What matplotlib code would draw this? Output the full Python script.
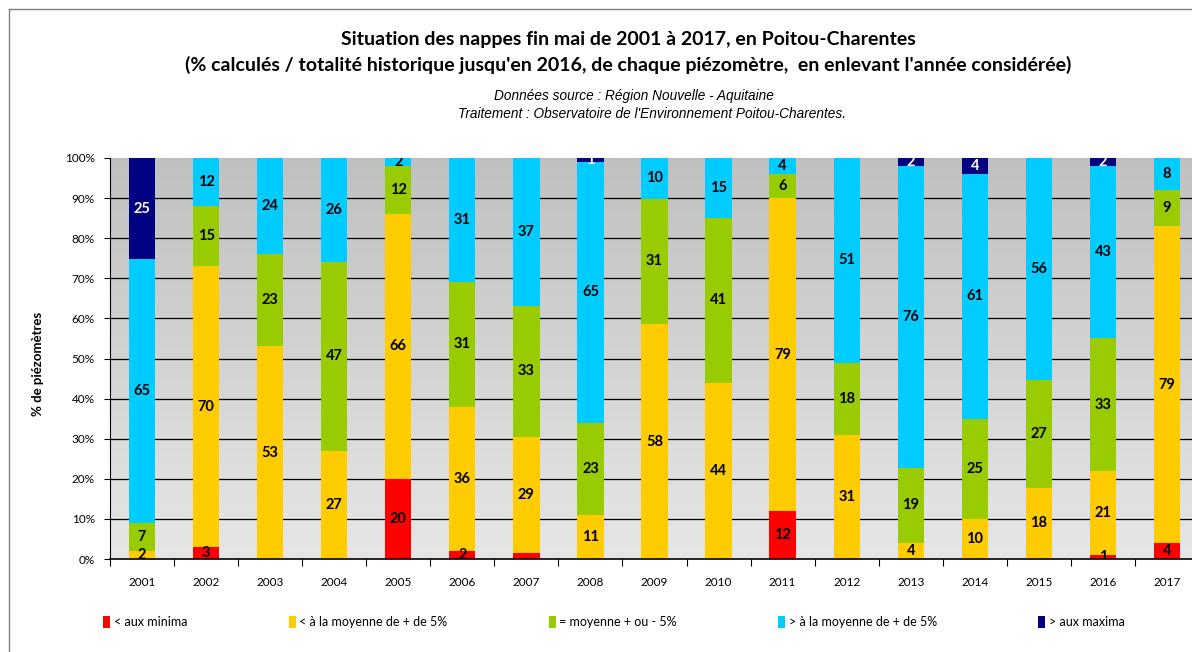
import numpy as np
import matplotlib
matplotlib.use("Agg")
import matplotlib.pyplot as plt
from matplotlib.lines import Line2D
from matplotlib.patches import Patch

# Data (values in % of piezometers)
years = [str(y) for y in range(2001, 2018)]
minima = [0, 3, 0, 0, 20, 2, 1.5, 0, 0, 0, 12, 0, 0, 0, 0, 1, 4]
below = [2, 70, 53, 27, 66, 36, 29, 11, 58, 44, 79, 31, 4, 10, 18, 21, 79]
mean = [7, 15, 23, 47, 12, 31, 33, 23, 31, 41, 6, 18, 19, 25, 27, 33, 9]
above = [65, 12, 24, 26, 2, 31, 37, 65, 10, 15, 4, 51, 76, 61, 56, 43, 8]
maxima = [25, 0, 0, 0, 0, 0, 0, 1, 0, 0, 0, 0, 2, 4, 0, 2, 0]

series_names = ["< aux minima", "< à la moyenne de + de 5%", "= moyenne + ou - 5%",
                "> à la moyenne de + de 5%", "> aux maxima"]
colors = ["#FF0000", "#FFCC00", "#99CC00", "#00CCFF", "#000080"]
label_colors = ["black", "black", "black", "black", "white"]
hidden_labels = [(0, 6)]  # 2007 minima has no label on the original

series = np.array([minima, below, mean, above, maxima], dtype=float)
pct = series / series.sum(axis=0) * 100

fig = plt.figure(figsize=(11.92, 6.52), dpi=100)
W, H = 1192, 652

ax = fig.add_axes([110 / W, 1 - 559 / H, (1199 - 110) / W, (559 - 158) / H])

# gradient background of plot area
grad = np.linspace(0, 1, 256).reshape(-1, 1)
ax.imshow(grad, extent=[0, 1, 0, 1], transform=ax.transAxes, aspect="auto",
          cmap=matplotlib.colors.LinearSegmentedColormap.from_list("bg", ["#C0C0C0", "#E6E6E6"]),
          zorder=0)

x = np.arange(len(years))
bottom = np.zeros(len(years))
for i, name in enumerate(series_names):
    ax.bar(x, pct[i], 0.41, bottom=bottom, color=colors[i], label=name, zorder=2,
           edgecolor="none")
    for j in range(len(years)):
        if series[i, j] > 0 and (i, j) not in hidden_labels:
            ax.text(x[j], bottom[j] + pct[i, j] / 2, f"{series[i, j]:.0f}",
                    ha="center", va="center", fontsize=10.5, fontweight="bold",
                    color=label_colors[i], family="Lato", zorder=3, clip_on=True)
    bottom += pct[i]

for yv in range(10, 100, 10):
    ax.axhline(yv, color="black", lw=0.9, zorder=1)

ax.set_xlim(-0.5, len(years) - 0.5)
ax.set_ylim(0, 100)
ax.set_yticks(range(0, 101, 10))
ax.set_yticklabels([f"{v}%" for v in range(0, 101, 10)], family="Lato", fontsize=8.5)
ax.set_xticks(x)
ax.set_xticklabels(years, family="Lato", fontsize=8.5)
ax.set_xticks(np.arange(-0.5, len(years), 1), minor=True)
ax.tick_params(axis="x", which="major", length=0, pad=13)
ax.tick_params(axis="x", which="minor", length=5, width=0.8, direction="out")
ax.tick_params(axis="y", length=4, width=0.8, pad=7)
for s in ["top", "right"]:
    ax.spines[s].set_visible(False)
ax.spines["left"].set_linewidth(0.8)
ax.spines["bottom"].set_linewidth(1.2)
ax.set_ylabel("% de piézomètres", family="Lato", fontweight="bold", fontsize=9.5)
ax.yaxis.set_label_coords(-(110 - 44) / (1199 - 110), 0.486)

# titles
fig.text(628 / W, 1 - 40 / H, "Situation des nappes fin mai de 2001 à 2017, en Poitou-Charentes",
         ha="center", va="center", family="Lato", fontweight="bold", fontsize=14)
fig.text(628 / W, 1 - 65 / H,
         "(% calculés / totalité historique jusqu'en 2016, de chaque piézomètre,  en enlevant l'année considérée)",
         ha="center", va="center", family="Lato", fontweight="bold", fontsize=14)
fig.text(634 / W, 1 - 96 / H, "Données source : Région Nouvelle - Aquitaine",
         ha="center", va="center", family="Liberation Sans", style="italic", fontsize=9.8)
fig.text(652 / W, 1 - 114 / H, "Traitement : Observatoire de l'Environnement Poitou-Charentes.",
         ha="center", va="center", family="Liberation Sans", style="italic", fontsize=9.8)

# legend
handles = [Patch(facecolor=c, edgecolor="none") for c in colors]
fig.legend(handles, series_names, loc="center", bbox_to_anchor=(614 / W, 1 - 622 / H),
           ncol=5, frameon=False, prop={"family": "Lato", "size": 9},
           handlelength=0.55, handleheight=1.1, handletextpad=0.3, columnspacing=8.1)

# outer frame (left and top visible)
fig.add_artist(Line2D([9 / W, 9 / W], [0, 1 - 9 / H], color="#808080", lw=1))
fig.add_artist(Line2D([9 / W, 1], [1 - 9 / H, 1 - 9 / H], color="#808080", lw=1))

fig.savefig("out.png", dpi=100)
